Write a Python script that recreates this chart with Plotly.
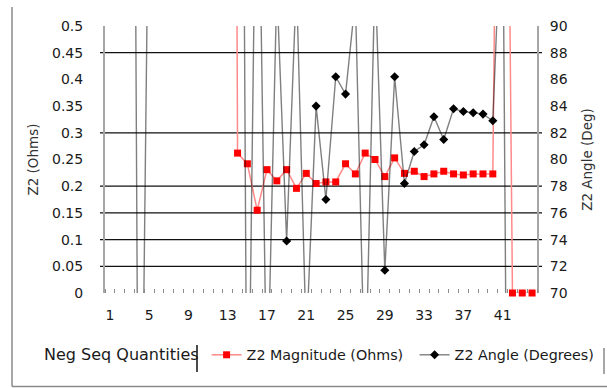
import plotly.graph_objects as go

# ---------------- data ----------------
categories = list(range(1, 45))

z2_magnitude = [4.9, 5.2, 5.0, 4.7, 5.3, 5.1, 4.8, 5.0, 5.2, 4.9, 5.1, 4.8, 5.0,
                0.262, 0.242, 0.155, 0.231, 0.210, 0.231, 0.196, 0.224, 0.205,
                0.208, 0.208, 0.242, 0.223, 0.262, 0.250, 0.218, 0.253, 0.224,
                0.228, 0.218, 0.223, 0.228, 0.223, 0.221, 0.223, 0.223, 0.223,
                2.0, 0.0, 0.0, 0.0]

z2_angle = [172, 176, 178, 40, 175, 170, 174, 177, 171, 173, 176, 174, 172, 180,
            52, 110, 61, 93, 73.9, 93.3, 66.3, 84.0, 77.0, 86.2, 84.9, 92.0,
            62, 94, 71.7, 86.2, 78.2, 80.6, 81.1, 83.2, 81.5, 83.8, 83.6, 83.5,
            83.4, 82.9, 101, 0, 0, 0]

x_tick_vals = [1, 5, 9, 13, 17, 21, 25, 29, 33, 37, 41]
x_tick_text = ["1", "5", "9", "13", "17", "21", "25", "29", "33", "37", "41"]
grid_values = [0.05, 0.1, 0.15, 0.2, 0.3, 0.45]
cat_boundaries = [c - 0.5 for c in categories] + [categories[-1] + 0.5]

FONT = "DejaVu Sans"
TXT = "#1a1a1a"

# plot area geometry helpers (styling only)
PL, PR, PT, PB = 105, 537, 26, 293
PW, PH = PR - PL, PB - PT


def px(xpix):
    return (xpix - PL) / PW


def py(ypix):
    return (PB - ypix) / PH


fig = go.Figure()
fig.add_trace(go.Scatter(
    x=categories, y=z2_magnitude, name="Z2 Magnitude (Ohms)",
    mode="lines+markers",
    line=dict(color="#ff8a8a", width=1.5),
    marker=dict(symbol="square", size=7, color="#ff0000"),
    cliponaxis=False, yaxis="y"))
fig.add_trace(go.Scatter(
    x=categories, y=z2_angle, name="Z2 Angle (Degrees)",
    mode="lines+markers",
    line=dict(color="rgba(0,0,0,0.5)", width=1.4),
    marker=dict(symbol="diamond", size=7, color="#000000"),
    cliponaxis=True, yaxis="y2"))

shapes = []
for v in grid_values:
    shapes.append(dict(type="line", xref="paper", yref="y",
                       x0=px(PL - 5), x1=px(PR + 5), y0=v, y1=v,
                       line=dict(color="#111111", width=1.2), layer="below"))
# legend separators / frame pieces
shapes.append(dict(type="line", xref="paper", yref="paper",
                   x0=px(197), x1=px(197), y0=py(345), y1=py(372),
                   line=dict(color="#111111", width=1.5)))
shapes.append(dict(type="line", xref="paper", yref="paper",
                   x0=px(604), x1=px(604), y0=py(348), y1=py(374),
                   line=dict(color="#8a8a8a", width=1.5)))
shapes.append(dict(type="line", xref="paper", yref="paper",
                   x0=px(12), x1=px(12), y0=py(7), y1=py(386.5),
                   line=dict(color="#8a8a8a", width=1.5)))
shapes.append(dict(type="line", xref="paper", yref="paper",
                   x0=px(12), x1=px(608), y0=py(386.5), y1=py(386.5),
                   line=dict(color="#8a8a8a", width=1.5)))

fig.update_layout(
    width=607, height=388,
    margin=dict(l=PL, r=607 - PR, t=PT, b=388 - PB, autoexpand=False),
    paper_bgcolor="white", plot_bgcolor="white",
    font=dict(family=FONT, size=14, color=TXT),
    shapes=shapes,
    xaxis=dict(range=[0.5, 44.5], tickmode="array", tickvals=x_tick_vals,
               ticktext=x_tick_text, ticks="", ticklabelstandoff=12,
               showgrid=False, zeroline=False, showline=False,
               minor=dict(tickmode="array", tickvals=cat_boundaries,
                          ticks="inside", ticklen=4, tickcolor="#8c8c8c",
                          tickwidth=1, showgrid=False)),
    yaxis=dict(range=[0, 0.5], tick0=0, dtick=0.05, showgrid=False,
               zeroline=False, showline=True, linecolor="#a6a6a6",
               linewidth=2, ticks="outside", ticklen=17,
               tickcolor="rgba(0,0,0,0)",
               title=dict(text="Z2 (Ohms)", font=dict(size=13.5, color="#333333"),
                          standoff=10)),
    yaxis2=dict(overlaying="y", side="right", range=[70, 90], tick0=70,
                dtick=2, showgrid=False, zeroline=False, showline=True,
                linecolor="#a6a6a6", linewidth=2, ticks="outside",
                ticklen=8, tickcolor="rgba(0,0,0,0)",
                title=dict(text="Z2 Angle (Deg)",
                           font=dict(size=13.5, color="#333333"), standoff=16)),
    legend=dict(orientation="h", x=px(42), xanchor="left", y=py(355),
                yanchor="middle", bgcolor="rgba(0,0,0,0)",
                entrywidth=163, entrywidthmode="pixels",
                font=dict(size=14.3, color=TXT),
                title=dict(text="Neg Seq Quantities", side="left",
                           font=dict(size=16, color=TXT))),
)

fig.write_html("out.html",
               config={"displayModeBar": False},
               post_script="document.body.style.margin='0';"
                           "document.body.style.overflow='hidden';")
